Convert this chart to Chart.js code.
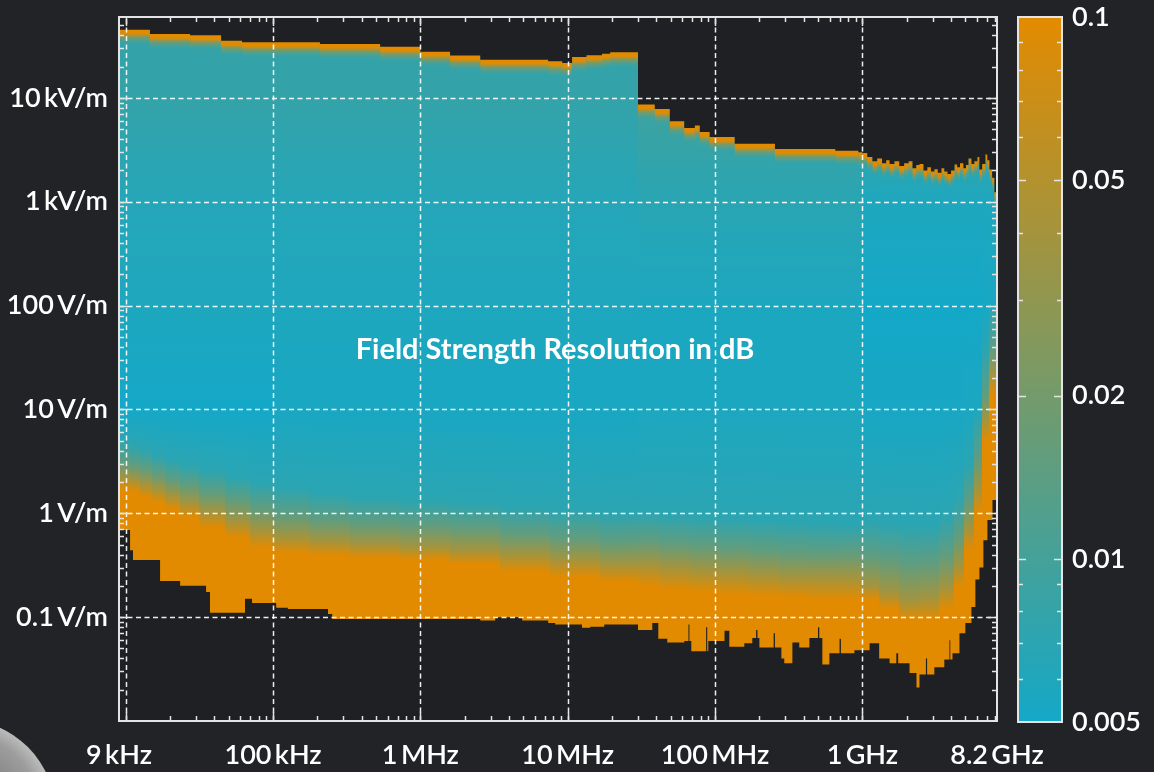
<!DOCTYPE html>
<html><head><meta charset="utf-8">
<script src="https://cdn.jsdelivr.net/npm/chart.js@4.4.0/dist/chart.umd.min.js"></script>
<style>
html,body{margin:0;padding:0;background:#222326;width:1154px;height:772px;overflow:hidden;}
#wrap{position:relative;width:1154px;height:772px;}
#main{position:absolute;left:0;top:0;}
#cbar{position:absolute;left:1000px;top:0;}
#curl{position:absolute;left:-136px;top:719px;width:192px;height:192px;border-radius:50%;
 background:radial-gradient(circle at 50% 50%, #5e5e5e 0%, #9d9d9d 60%, #e8e8e8 86%, #ffffff 96%, #d8d8d8 100%);}
</style></head><body>
<div id="wrap">
<canvas id="main" width="1154" height="772"></canvas>
<canvas id="cbar" width="154" height="772"></canvas>
<div id="curl"></div>
</div>
<script>
// ================= DATA =================
const xTickValues = [9e3, 1e5, 1e6, 1e7, 1e8, 1e9, 8.2e9];
const xTickLabels = ['9\u2009kHz', '100\u2009kHz', '1\u2009MHz', '10\u2009MHz', '100\u2009MHz', '1\u2009GHz', '8.2\u2009GHz'];
const xGridValues = [1e4, 1e5, 1e6, 1e7, 1e8, 1e9];
const yTickValues = [0.1, 1, 10, 100, 1000, 10000];
const yTickLabels = ['0.1\u2009V/m', '1\u2009V/m', '10\u2009V/m', '100\u2009V/m', '1\u2009kV/m', '10\u2009kV/m'];
const cbTickValues = [0.1, 0.05, 0.02, 0.01, 0.005];
const cbTickLabels = ['0.1', '0.05', '0.02', '0.01', '0.005'];
const titleText = 'Field Strength Resolution in dB';

// upper measurable field strength limit (V/m), stepped, by frequency (Hz)
const upperFreqHz = [9e3, 14.6e3, 27.3e3, 44.4e3, 61.6e3, 208e3, 533e3, 1e6, 1.59e6, 2.55e6, 7.37e6, 9.18e6, 10.7e6, 13.4e6, 17.1e6, 19.4e6, 30e6, 39e6, 49.3e6, 61.8e6, 72.9e6, 78.8e6, 92e6, 136e6, 255e6, 655e6, 939e6,
  1e9, 1.08e9, 1.17e9, 1.26e9, 1.36e9, 1.45e9, 1.53e9, 1.65e9, 1.78e9, 1.92e9, 2.06e9, 2.19e9, 2.32e9, 2.44e9, 2.6e9, 2.76e9, 2.92e9, 3.08e9, 3.25e9, 3.44e9, 3.6e9, 3.78e9, 4.0e9, 4.22e9, 4.4e9, 4.6e9, 4.85e9, 5.05e9, 5.25e9, 5.5e9, 5.75e9, 6.04e9, 6.23e9, 6.5e9, 6.84e9, 7.05e9, 7.29e9, 7.6e9, 7.88e9, 8.2e9];
const upperFieldVm = [45300, 41200, 40000, 35500, 34200, 33000, 31000, 27800, 25500, 23300, 22500, 21700, 24700, 25700, 26600, 27400, 8600, 7800, 5940, 5130, 5400, 4700, 4200, 3620, 3220, 3100, 3000,
  2950, 2700, 2450, 2600, 2350, 2500, 2300, 2450, 2200, 2350, 2450, 2100, 2250, 2300, 2000, 2150, 1950, 2050, 1900, 2100, 1950, 1850, 2000, 2280, 2150, 2350, 2100, 2250, 2600, 2300, 2450, 2700, 2040, 2300, 2840, 2500, 2040, 1700, 1230, 1230];

// lower measurable field strength limit (V/m), stepped, by frequency (Hz)
const lowerFreqHz = [9e3, 10.7e3, 11.2e3, 17.1e3, 23.4e3, 35.1e3, 37.3e3, 64.5e3, 72e3, 105e3, 126e3, 236e3, 252e3, 2.55e6, 3.22e6, 4.91e6, 7.37e6, 8.22e6, 12.5e6, 14.2e6, 17.7e6,
  30e6, 37.5e6, 41.2e6, 47.4e6, 61.8e6, 66e6, 67e6, 69e6, 87e6, 88.5e6, 90e6, 116e6, 125e6, 158e6, 179e6, 190e6, 194e6, 200e6, 250e6, 255e6, 282e6, 295e6, 335e6, 373e6, 437e6, 500e6, 510e6, 535e6, 597e6, 700e6, 715e6, 883e6,
  1.12e9, 1.3e9, 1.53e9, 1.7e9, 1.75e9, 2.09e9, 2.33e9, 2.44e9, 2.7e9, 2.75e9, 3.08e9, 3.6e9, 3.9e9, 3.95e9, 4.09e9, 4.56e9, 5.0e9, 5.5e9, 5.85e9, 6.23e9, 6.63e9, 7.06e9, 7.64e9, 8.2e9];
const lowerFieldVm = [0.69, 0.44, 0.355, 0.223, 0.20, 0.175, 0.11, 0.15, 0.137, 0.123, 0.12, 0.107, 0.096, 0.093, 0.10, 0.093, 0.088, 0.085, 0.079, 0.081, 0.085,
  0.075, 0.088, 0.062, 0.057, 0.059, 0.085, 0.059, 0.047, 0.08, 0.047, 0.059, 0.074, 0.052, 0.056, 0.063, 0.075, 0.063, 0.051, 0.07, 0.051, 0.04, 0.036, 0.057, 0.051, 0.063, 0.08, 0.063, 0.035, 0.045, 0.062, 0.045, 0.048,
  0.056, 0.04, 0.036, 0.045, 0.036, 0.029, 0.021, 0.028, 0.04, 0.028, 0.033, 0.039, 0.06, 0.039, 0.045, 0.07, 0.088, 0.125, 0.23, 0.3, 0.55, 0.86, 1.34, 1.34];

// resolution map: frequency bands (edges, Hz)
const bandEdgesHz = [9e3, 10.7e3, 12.5e3, 15.1e3, 18.5e3, 23.4e3, 31.9e3, 47.2e3, 69.8e3, 103e3, 178e3, 333e3, 729e3, 1.59e6, 3.48e6, 7.6e6, 16.6e6, 30e6, 42.8e6, 68.5e6, 109e6, 175e6, 280e6, 447e6, 714e6, 1e9, 1.3e9, 1.78e9, 2.44e9, 3.34e9, 4.22e9, 4.93e9, 5.76e9, 6.53e9, 7.29e9, 8.2e9];
// field strength (V/m) at which the resolution falls to 0.1 / 0.04 / 0.015 / 0.007 dB, per band
const field_0p1dB   = [1.68, 1.6, 1.43, 1.26, 1.08, 0.9, 0.72, 0.58, 0.46, 0.41, 0.39, 0.37, 0.355, 0.32, 0.27, 0.24, 0.22, 0.2, 0.18, 0.175, 0.164, 0.157, 0.153, 0.146, 0.146, 0.146, 0.12, 0.095, 0.095, 0.12, 0.195, 0.44, 1.0, 5.0, 13.7];
const field_0p04dB  = [2.2, 2.1, 1.9, 1.7, 1.47, 1.26, 1.03, 0.83, 0.69, 0.59, 0.54, 0.5, 0.47, 0.44, 0.4, 0.355, 0.32, 0.32, 0.3, 0.28, 0.27, 0.255, 0.24, 0.24, 0.24, 0.2, 0.17, 0.14, 0.15, 0.19, 0.3, 0.69, 1.68, 7.9, 21.6];
const field_0p015dB = [3.1, 2.9, 2.7, 2.4, 2.1, 1.87, 1.57, 1.34, 1.12, 0.96, 0.86, 0.8, 0.77, 0.73, 0.64, 0.58, 0.53, 0.55, 0.51, 0.49, 0.46, 0.44, 0.42, 0.41, 0.42, 0.38, 0.36, 0.32, 0.33, 0.4, 0.6, 1.26, 3.26, 13.7, 37];
const field_0p007dB = [5.1, 4.5, 4.1, 3.6, 3.2, 2.9, 2.6, 2.2, 1.95, 1.75, 1.57, 1.43, 1.34, 1.26, 1.15, 1.08, 1.0, 1.0, 0.96, 0.92, 0.9, 0.86, 0.83, 0.8, 0.77, 0.85, 0.8, 0.75, 0.75, 0.95, 1.4, 2.8, 7.9, 37, 90];
// resolution (dB) at 10 V/m, 100 V/m, 1 kV/m, 10 kV/m, per band
const res_10Vm  = [0.005, 0.005, 0.005, 0.005, 0.005, 0.005, 0.005, 0.005, 0.005, 0.0054, 0.0054, 0.0054, 0.0054, 0.0054, 0.0054, 0.0054, 0.0054, 0.0056, 0.0056, 0.0056, 0.0056, 0.0056, 0.0056, 0.0056, 0.0056, 0.0053, 0.0053, 0.0053, 0.0053, 0.0053, 0.0053, 0.0055, 0.0055, 0.0055, 0.0055];
const res_100Vm = [0.0058, 0.0058, 0.0058, 0.0058, 0.0058, 0.0058, 0.0058, 0.0058, 0.0058, 0.0058, 0.0058, 0.0058, 0.0058, 0.0058, 0.0058, 0.0058, 0.0058, 0.0056, 0.0056, 0.0056, 0.0056, 0.0056, 0.0056, 0.0056, 0.0056, 0.005, 0.005, 0.005, 0.005, 0.005, 0.005, 0.005, 0.005, 0.0052, 0.0055];
const res_1kVm  = [0.0064, 0.0064, 0.0064, 0.0064, 0.0064, 0.0064, 0.0064, 0.0064, 0.0064, 0.0064, 0.0064, 0.0064, 0.0064, 0.0064, 0.0064, 0.0064, 0.0064, 0.0068, 0.0068, 0.0068, 0.0068, 0.0068, 0.0068, 0.0068, 0.0068, 0.0058, 0.0058, 0.0058, 0.0058, 0.0058, 0.0058, 0.0058, 0.0058, 0.0058, 0.0058];
const res_10kVm = [0.008, 0.008, 0.008, 0.008, 0.008, 0.008, 0.008, 0.008, 0.008, 0.008, 0.008, 0.008, 0.008, 0.008, 0.008, 0.008, 0.008, 0.0095, 0.0095, 0.0095, 0.0095, 0.0095, 0.0095, 0.0095, 0.0095, 0.0095, 0.0095, 0.0095, 0.0095, 0.0095, 0.0095, 0.0095, 0.0095, 0.0095, 0.0095];

// ================= STYLE / HELPERS =================
const FONT = 'Lato, "Open Sans", sans-serif';
const MASK = '#1f2023';
const LINE = '#e4e4e4';
const C_LOW = [20, 168, 200], C_HIGH = [227, 139, 0];
const RES_MIN = 0.005, RES_MAX = 0.1;
function resColor(r, a) {
  let t = Math.log(r / RES_MIN) / Math.log(RES_MAX / RES_MIN);
  t = Math.max(0, Math.min(1, t));
  const c = C_LOW.map((v, k) => Math.round(v + (C_HIGH[k] - v) * t));
  return a === undefined ? `rgb(${c[0]},${c[1]},${c[2]})` : `rgba(${c[0]},${c[1]},${c[2]},${a})`;
}
const clamp01 = v => Math.max(0, Math.min(1, v));

const heatPlugin = {
  id: 'heat',
  beforeDatasetsDraw(chart) {
    const { ctx, chartArea: a, scales: { x, y } } = chart;
    ctx.save();
    ctx.beginPath(); ctx.rect(a.left, a.top, a.right - a.left, a.bottom - a.top); ctx.clip();
    const yb = y.getPixelForValue(y.min), yt = y.getPixelForValue(y.max);
    for (let i = 0; i < bandEdgesHz.length - 1; i++) {
      const x0 = Math.floor(x.getPixelForValue(bandEdgesHz[i]));
      const x1 = Math.ceil(x.getPixelForValue(bandEdgesHz[i + 1]));
      const stops = [[y.min, 0.1], [field_0p1dB[i], 0.1], [field_0p04dB[i], 0.04], [field_0p015dB[i], 0.015], [field_0p007dB[i], 0.007]];
      const topC = field_0p007dB[i];
      [[10, res_10Vm[i]], [100, res_100Vm[i]], [1000, res_1kVm[i]], [10000, res_10kVm[i]]].forEach(s => { if (s[0] > topC) stops.push(s); });
      stops.push([y.max, res_10kVm[i]]);
      const g = ctx.createLinearGradient(0, yb, 0, yt);
      let last = 0;
      stops.forEach(([f, r]) => {
        let o = clamp01((y.getPixelForValue(f) - yb) / (yt - yb));
        if (o < last) o = last; last = o;
        g.addColorStop(o, resColor(r));
      });
      ctx.fillStyle = g;
      ctx.fillRect(x0, yt, x1 - x0, yb - yt);
    }
    // orange rim just below the upper limit
    for (let i = 0; i < upperFreqHz.length - 1; i++) {
      const x0 = x.getPixelForValue(upperFreqHz[i]);
      const x1 = x.getPixelForValue(upperFreqHz[i + 1]);
      const yp = y.getPixelForValue(upperFieldVm[i]);
      const g = ctx.createLinearGradient(0, yp, 0, yp + 14);
      g.addColorStop(0, resColor(0.1, 1));
      g.addColorStop(0.28, resColor(0.1, 1));
      g.addColorStop(0.55, resColor(0.04, 0.6));
      g.addColorStop(1, resColor(0.02, 0));
      ctx.fillStyle = g;
      ctx.fillRect(x0, yp - 2, x1 - x0, 16);
    }
    ctx.restore();
  }
};

const overlayPlugin = {
  id: 'overlay',
  afterDatasetsDraw(chart) {
    const { ctx, chartArea: a, scales: { x, y } } = chart;
    ctx.save();
    // dashed grid
    ctx.strokeStyle = 'rgba(255,255,255,0.92)';
    ctx.lineWidth = 1.5;
    ctx.setLineDash([5, 3.5]);
    xGridValues.forEach(v => {
      const px = Math.round(x.getPixelForValue(v)) + 0.5;
      ctx.beginPath(); ctx.moveTo(px, a.bottom); ctx.lineTo(px, a.top); ctx.stroke();
    });
    yTickValues.forEach(v => {
      const py = Math.round(y.getPixelForValue(v)) + 0.5;
      ctx.beginPath(); ctx.moveTo(a.left, py); ctx.lineTo(a.right, py); ctx.stroke();
    });
    ctx.setLineDash([]);
    // inward ticks
    ctx.strokeStyle = LINE;
    ctx.lineWidth = 1.5;
    for (let e = 3; e <= 9; e++) {
      for (let m = 1; m <= 9; m++) {
        const v = m * Math.pow(10, e);
        if (v <= x.min || v >= x.max) continue;
        const px = Math.round(x.getPixelForValue(v)) + 0.5;
        const len = m === 1 ? 9 : 5;
        ctx.beginPath(); ctx.moveTo(px, a.bottom); ctx.lineTo(px, a.bottom - len);
        ctx.moveTo(px, a.top); ctx.lineTo(px, a.top + len); ctx.stroke();
      }
    }
    for (let e = -2; e <= 4; e++) {
      for (let m = 1; m <= 9; m++) {
        const v = m * Math.pow(10, e);
        if (v <= y.min || v >= y.max) continue;
        const py = Math.round(y.getPixelForValue(v)) + 0.5;
        const len = m === 1 ? 9 : 5;
        ctx.beginPath(); ctx.moveTo(a.left, py); ctx.lineTo(a.left + len, py);
        ctx.moveTo(a.right, py); ctx.lineTo(a.right - len, py); ctx.stroke();
      }
    }
    // frame
    ctx.strokeStyle = LINE;
    ctx.lineWidth = 2;
    ctx.strokeRect(a.left, a.top, a.right - a.left, a.bottom - a.top);
    // title
    ctx.fillStyle = '#ffffff';
    ctx.font = `bold 29px ${FONT}`;
    ctx.textAlign = 'center';
    ctx.textBaseline = 'middle';
    ctx.fillText(titleText, (a.left + a.right) / 2 - 3, a.top + 333);
    ctx.restore();
  }
};

const tickFont = { family: FONT, size: 27, weight: '600' };

new Chart(document.getElementById('main'), {
  type: 'line',
  data: {
    datasets: [
      { label: 'upper limit', data: upperFreqHz.map((f, i) => ({ x: f, y: upperFieldVm[i] })), stepped: 'before', fill: 'end', backgroundColor: MASK, borderColor: MASK, borderWidth: 0, pointRadius: 0 },
      { label: 'lower limit', data: lowerFreqHz.map((f, i) => ({ x: f, y: lowerFieldVm[i] })), stepped: 'before', fill: 'start', backgroundColor: MASK, borderColor: MASK, borderWidth: 0, pointRadius: 0 }
    ]
  },
  options: {
    responsive: false, animation: false, events: [],
    layout: { padding: { left: 0, top: 17, right: 157, bottom: 0 } },
    plugins: { legend: { display: false }, tooltip: { enabled: false } },
    scales: {
      x: {
        type: 'logarithmic', min: 9e3, max: 8.2e9,
        grid: { display: false, drawTicks: false }, border: { display: false },
        afterBuildTicks: s => { s.ticks = xTickValues.map(v => ({ value: v })); },
        afterFit: s => { s.height = 51; s.paddingLeft = 0; s.paddingRight = 0; },
        ticks: { autoSkip: false, maxRotation: 0, minRotation: 0, color: '#ffffff', font: tickFont, padding: 18, callback: (v, i) => xTickLabels[i] }
      },
      y: {
        type: 'logarithmic', min: 0.01, max: 60000,
        grid: { display: false, drawTicks: false }, border: { display: false },
        afterBuildTicks: s => { s.ticks = yTickValues.map(v => ({ value: v })); },
        afterFit: s => { s.width = 119; s.paddingTop = 0; s.paddingBottom = 0; },
        ticks: { autoSkip: false, color: '#ffffff', font: tickFont, padding: 11, callback: (v, i) => yTickLabels[i] }
      }
    }
  },
  plugins: [heatPlugin, overlayPlugin]
});

// ================= COLOR BAR =================
const cbFramePlugin = {
  id: 'cbframe',
  afterDatasetsDraw(chart) {
    const { ctx, chartArea: a, scales: { y } } = chart;
    ctx.save();
    ctx.strokeStyle = LINE; ctx.lineWidth = 1.5;
    for (let e = -3; e <= -1; e++) {
      for (let m = 1; m <= 9; m++) {
        const v = m * Math.pow(10, e);
        if (v <= y.min || v >= y.max) continue;
        const py = Math.round(y.getPixelForValue(v)) + 0.5;
        const len = cbTickValues.includes(v) ? 8 : 5;
        ctx.beginPath(); ctx.moveTo(a.left, py); ctx.lineTo(a.left + len, py);
        ctx.moveTo(a.right, py); ctx.lineTo(a.right - len, py); ctx.stroke();
      }
    }
    ctx.lineWidth = 2;
    ctx.strokeRect(a.left, a.top, a.right - a.left, a.bottom - a.top);
    ctx.restore();
  }
};

new Chart(document.getElementById('cbar'), {
  type: 'bar',
  data: {
    labels: ['resolution'],
    datasets: [{
      data: [[RES_MIN, RES_MAX]],
      backgroundColor: c => {
        const a = c.chart.chartArea;
        if (!a) return resColor(RES_MIN);
        const g = c.chart.ctx.createLinearGradient(0, a.bottom, 0, a.top);
        g.addColorStop(0, resColor(RES_MIN));
        g.addColorStop(1, resColor(RES_MAX));
        return g;
      },
      barPercentage: 1, categoryPercentage: 1, borderWidth: 0
    }]
  },
  options: {
    responsive: false, animation: false, events: [],
    layout: { padding: { left: 18, top: 17, bottom: 50, right: 0 } },
    plugins: { legend: { display: false }, tooltip: { enabled: false } },
    scales: {
      x: { display: false },
      y: {
        type: 'logarithmic', position: 'right', min: RES_MIN, max: RES_MAX,
        grid: { display: false, drawTicks: false }, border: { display: false },
        afterBuildTicks: s => { s.ticks = cbTickValues.map(v => ({ value: v })); },
        afterFit: s => { s.width = 92; s.paddingTop = 0; s.paddingBottom = 0; },
        ticks: { autoSkip: false, color: '#ffffff', font: tickFont, padding: 10, callback: (v, i) => cbTickLabels[i] }
      }
    }
  },
  plugins: [cbFramePlugin]
});
</script>
</body></html>
